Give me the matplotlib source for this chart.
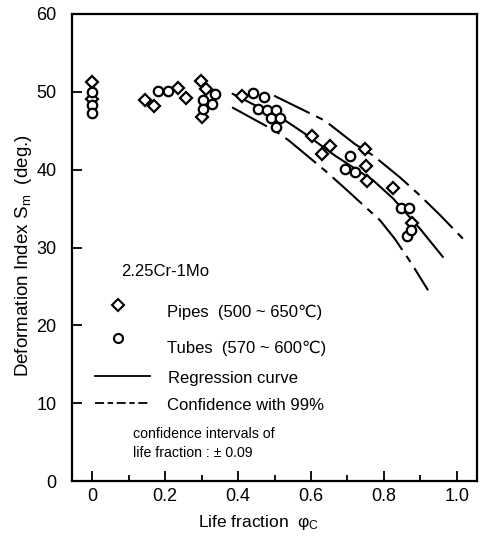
import matplotlib
matplotlib.use("Agg")
import matplotlib.pyplot as plt
from matplotlib.ticker import MultipleLocator

plt.rcParams['font.family'] = ['Liberation Sans', 'DejaVu Sans']
plt.rcParams['mathtext.fontset'] = 'custom'
plt.rcParams['mathtext.rm'] = 'Liberation Sans'
plt.rcParams['mathtext.it'] = 'Liberation Sans'

# ---- data ----
pipes_x = [0.0, 0.0, 0.145, 0.17, 0.236, 0.258, 0.298, 0.311, 0.302, 0.41,
           0.604, 0.652, 0.631, 0.748, 0.751, 0.753, 0.824, 0.876]
pipes_y = [51.2, 49.1, 49.0, 48.2, 50.5, 49.2, 51.4, 50.3, 46.8, 49.5,
           44.3, 43.0, 42.0, 42.6, 40.5, 38.5, 37.7, 33.1]

tubes_x = [0.0, 0.0, 0.0, 0.18, 0.209, 0.305, 0.337, 0.33, 0.305,
           0.442, 0.47, 0.456, 0.48, 0.503, 0.49, 0.516, 0.503,
           0.707, 0.694, 0.721, 0.846, 0.868, 0.862, 0.873]
tubes_y = [50.0, 48.3, 47.3, 50.1, 50.1, 49.0, 49.7, 48.4, 47.8,
           49.9, 49.3, 47.8, 47.7, 47.7, 46.7, 46.6, 45.5,
           41.7, 40.1, 39.7, 35.1, 35.1, 31.5, 32.2]

reg_x = [0.383, 0.533, 0.584, 0.666, 0.771, 0.825, 0.899, 0.963]
reg_y = [49.8, 46.2, 44.6, 41.8, 38.6, 36.3, 32.4, 28.7]

upper_x = [0.499, 0.638, 0.72, 0.771, 0.844, 0.896, 0.953, 1.017]
upper_y = [49.5, 46.3, 43.3, 41.8, 39.0, 36.8, 34.2, 31.1]

lower_x = [0.384, 0.501, 0.538, 0.638, 0.686, 0.789, 0.830, 0.876, 0.921]
lower_y = [48.0, 45.0, 43.8, 39.9, 37.9, 33.5, 31.1, 27.9, 24.5]

x_ticks = [0, 0.2, 0.4, 0.6, 0.8, 1.0]
x_ticklabels = ['0', '0.2', '0.4', '0.6', '0.8', '1.0']
y_ticks = [0, 10, 20, 30, 40, 50, 60]

# ---- figure ----
W, H = 480, 539
fig = plt.figure(figsize=(W / 100, H / 100), dpi=100)
L, R, T, B = 72, 477, 14, 481
ax = fig.add_axes([L / W, 1 - B / H, (R - L) / W, (B - T) / H])

dash = (0, (19, 3.5, 3.5, 3.5))
ax.plot(reg_x, reg_y, color='black', lw=1.5, solid_capstyle='butt')
ax.plot(upper_x, upper_y, color='black', lw=1.5, linestyle=dash)
ax.plot(lower_x, lower_y, color='black', lw=1.5, linestyle=dash)

ax.plot(pipes_x, pipes_y, linestyle='none', marker='D', ms=6.5,
        mfc='white', mec='black', mew=1.6, zorder=3)
ax.plot(tubes_x, tubes_y, linestyle='none', marker='o', ms=6.8,
        mfc='white', mec='black', mew=1.6, zorder=3)

ax.set_xlim(-0.055, 1.055)
ax.set_ylim(0, 60)
ax.set_xticks(x_ticks)
ax.set_xticklabels(x_ticklabels)
ax.xaxis.set_minor_locator(MultipleLocator(0.1))
ax.set_yticks(y_ticks)
ax.tick_params(axis='x', which='major', direction='in', length=7, width=1.3,
               labelsize=13, pad=5)
ax.tick_params(axis='x', which='minor', direction='in', length=4, width=1.3)
ax.tick_params(axis='y', which='major', direction='in', length=7, width=1.3,
               labelsize=13, pad=11)
for s in ax.spines.values():
    s.set_linewidth(1.6)

# ---- hand-drawn legend / annotations (axes coordinates) ----
def px(xp, yp):
    return ((xp - L) / (R - L), (B - yp) / (B - T))

fs = 12
ax.text(*px(121, 271), '2.25Cr-1Mo', transform=ax.transAxes, fontsize=fs, va='center')
ax.plot(*px(118, 305), transform=ax.transAxes, marker='D', ms=6.3, mfc='white',
        mec='black', mew=1.5, clip_on=False)
ax.plot(*px(118, 338), transform=ax.transAxes, marker='o', ms=6.5, mfc='white',
        mec='black', mew=1.5, clip_on=False)
ax.text(*px(167, 312), 'Pipes  (500 ~ 650℃)', transform=ax.transAxes, fontsize=fs, va='center')
ax.text(*px(167, 348), 'Tubes  (570 ~ 600℃)', transform=ax.transAxes, fontsize=fs, va='center')
a0, a1 = px(95, 376), px(150, 376)
ax.plot([a0[0], a1[0]], [a0[1], a1[1]], transform=ax.transAxes, color='black', lw=1.3)
ax.text(*px(168, 378), 'Regression curve', transform=ax.transAxes, fontsize=fs, va='center')
b0, b1 = px(95, 403), px(150, 403)
ax.plot([b0[0], b1[0]], [b0[1], b1[1]], transform=ax.transAxes, color='black', lw=1.3,
        linestyle=(0, (5, 2, 3, 2)))
ax.text(*px(167, 405), 'Confidence with 99%', transform=ax.transAxes, fontsize=fs, va='center')
ax.text(*px(133, 434), 'confidence intervals of', transform=ax.transAxes, fontsize=10.2, va='center')
ax.text(*px(133, 453), 'life fraction : ± 0.09', transform=ax.transAxes, fontsize=10.2, va='center')

fig.text(24 / W, 1 - 256 / H, r'Deformation Index S$_\mathrm{m}$  (deg.)', rotation=90,
         ha='center', va='center', fontsize=13.5)
fig.text(259 / W, 1 - 523 / H, r'Life fraction  φ$_\mathrm{C}$', ha='center', va='center',
         fontsize=12.5)

fig.savefig('out.png', dpi=100)
